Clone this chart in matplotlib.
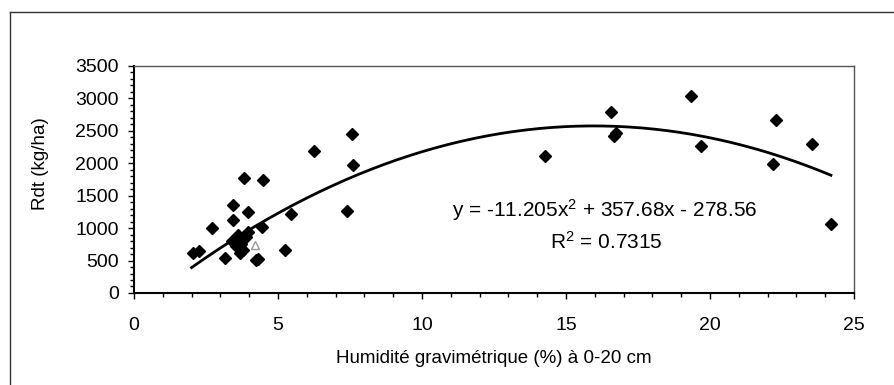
import numpy as np
import matplotlib.pyplot as plt
from matplotlib.lines import Line2D
from matplotlib.ticker import MultipleLocator

plt.rcParams['font.family'] = ['Liberation Sans', 'DejaVu Sans']
plt.rcParams['mathtext.default'] = 'regular'

# humidité gravimétrique (%) et rendement (kg/ha)
humidite = [2.05, 2.25, 2.7, 3.16, 3.45, 3.45, 3.82, 3.97, 3.97, 4.49, 4.43,
            4.22, 4.3, 3.68, 3.4, 3.55, 3.7, 3.8, 3.9, 3.6, 5.24, 5.45,
            6.25, 7.4, 7.57, 7.6, 14.27, 16.56, 16.68, 16.75, 19.33, 19.68,
            22.17, 22.3, 23.53, 24.2]
rendement = [620, 650, 997, 534, 1356, 1125, 1767, 1253, 945, 1741, 1012,
             508, 520, 612, 800, 720, 760, 660, 860, 900, 662, 1217,
             2188, 1263, 2450, 1972, 2111, 2794, 2420, 2460, 3035, 2265,
             1983, 2666, 2296, 1063]

# point isolé (triangle) dans le nuage
tri_x = [4.2]
tri_y = [740]

# courbe de tendance polynomiale (ordre 2)
coef = [-11.205, 357.68, -278.56]
x_min, x_max = 2.0, 24.2

fig = plt.figure(figsize=(8.95, 3.85), dpi=100)
ax = fig.add_axes([0.1497, 0.239, 0.8045, 0.5896])

xs = np.linspace(x_min, x_max, 200)
ax.plot(xs, np.polyval(coef, xs), color='black', lw=2.0, zorder=2)
ax.plot(humidite, rendement, 'D', color='black', markersize=6.5, zorder=3)
ax.plot(tri_x, tri_y, '^', markerfacecolor='white', markeredgecolor='#999999',
        markersize=6, zorder=4)

ax.set_xlim(0, 25)
ax.set_ylim(0, 3500)
ax.xaxis.set_major_locator(MultipleLocator(5))
ax.xaxis.set_minor_locator(MultipleLocator(1))
ax.yaxis.set_major_locator(MultipleLocator(500))
ax.yaxis.set_minor_locator(MultipleLocator(100))

ax.tick_params(axis='both', which='major', direction='out', length=4, width=1,
               labelsize=14, color='black')
ax.tick_params(axis='both', which='minor', direction='out', length=3, width=1,
               color='black')
ax.tick_params(axis='x', which='major', pad=13)
ax.tick_params(axis='y', which='major', pad=7)

for s in ['top', 'right']:
    ax.spines[s].set_color('#555555')
    ax.spines[s].set_linewidth(1.0)
for s in ['left', 'bottom']:
    ax.spines[s].set_color('black')
    ax.spines[s].set_linewidth(1.5)

ax.set_xlabel('Humidité gravimétrique (%) à 0-20 cm', fontsize=13.5)
ax.set_ylabel('Rdt (kg/ha)', fontsize=13.5)
ax.xaxis.set_label_coords(0.5, -0.25)
ax.yaxis.set_label_coords(-0.118, 0.57)

ax.text(16.34, 1280, 'y = -11.205x$^2$ + 357.68x - 278.56', fontsize=15,
        ha='center', va='center')
ax.text(16.4, 790, 'R$^2$ = 0.7315', fontsize=15, ha='center', va='center')

# cadre extérieur
fig.add_artist(Line2D([10 / 895, 1.0], [1 - 12 / 385, 1 - 12 / 385],
                      color='#333333', lw=1.0))
fig.add_artist(Line2D([10 / 895, 10 / 895], [0.0, 1 - 12 / 385],
                      color='#333333', lw=1.0))

fig.savefig('out.png', dpi=100)
